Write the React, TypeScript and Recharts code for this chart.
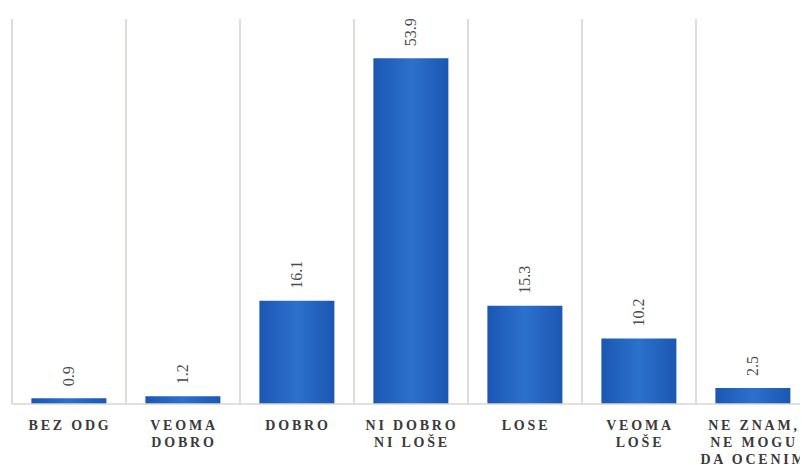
import React from "react";
import { BarChart, Bar, XAxis, YAxis, ReferenceLine, LabelList } from "recharts";

const categories = ["BEZ ODG", "VEOMA\nDOBRO", "DOBRO", "NI DOBRO\nNI LOŠE", "LOSE", "VEOMA\nLOŠE", "NE ZNAM,\nNE MOGU\nDA OCENIM"];
const values = [0.9, 1.2, 16.1, 53.9, 15.3, 10.2, 2.5];
const yTicks = [0, 60];

const data = categories.map((c, i) => ({ name: c, value: values[i] }));

const FONT = "'Liberation Serif', 'DejaVu Serif', serif";

const Tick = (props: any) => {
  const { x, y, payload } = props;
  const lines = String(payload.value).split("\n");
  return (
    <g transform={`translate(${x},${y})`}>
      <text
        textAnchor="middle"
        fontFamily={FONT}
        fontSize={14}
        fontWeight={600}
        letterSpacing={2.8}
        fill="#3a3a3a"
      >
        {lines.map((l, i) => (
          <tspan key={i} x={1} dy={i === 0 ? 18 : 17}>
            {l}
          </tspan>
        ))}
      </text>
    </g>
  );
};

const ValueLabel = (props: any) => {
  const { x, y, width, value } = props;
  const cx = x + width / 2 + 5;
  const cy = y - 12;
  return (
    <text
      x={cx}
      y={cy}
      transform={`rotate(-90 ${cx} ${cy})`}
      textAnchor="start"
      fontFamily={FONT}
      fontSize={16}
      fill="#4a4a4a"
    >
      {value}
    </text>
  );
};

export default function App() {
  return (
    <div style={{ margin: "-8px 0 0 -8px", width: 808, height: 467, background: "#fff" }}>
      <BarChart
        width={808}
        height={467}
        data={data}
        margin={{ top: 19, right: -2, bottom: 0, left: 12 }}
        barCategoryGap="17%"
      >
        <defs>
          <linearGradient id="barGrad" x1="0" y1="0" x2="1" y2="0">
            <stop offset="0%" stopColor="#1b57b3" />
            <stop offset="50%" stopColor="#2c71cc" />
            <stop offset="100%" stopColor="#1b57b3" />
          </linearGradient>
        </defs>
        <XAxis
          dataKey="name"
          tick={<Tick />}
          tickLine={false}
          axisLine={{ stroke: "#d8d4d0", strokeWidth: 1.5 }}
          height={63}
          interval={0}
        />
        <YAxis hide domain={[yTicks[0], yTicks[1]]} ticks={yTicks} />
        {categories.map((c) => (
          <ReferenceLine key={c} x={c} position="start" stroke="#d6d0cb" strokeWidth={1.5} />
        ))}
        <ReferenceLine x={categories[categories.length - 1]} position="end" stroke="#d6d0cb" strokeWidth={1.5} />
        <Bar dataKey="value" fill="url(#barGrad)" isAnimationActive={false}>
          <LabelList dataKey="value" content={<ValueLabel />} />
        </Bar>
      </BarChart>
    </div>
  );
}
